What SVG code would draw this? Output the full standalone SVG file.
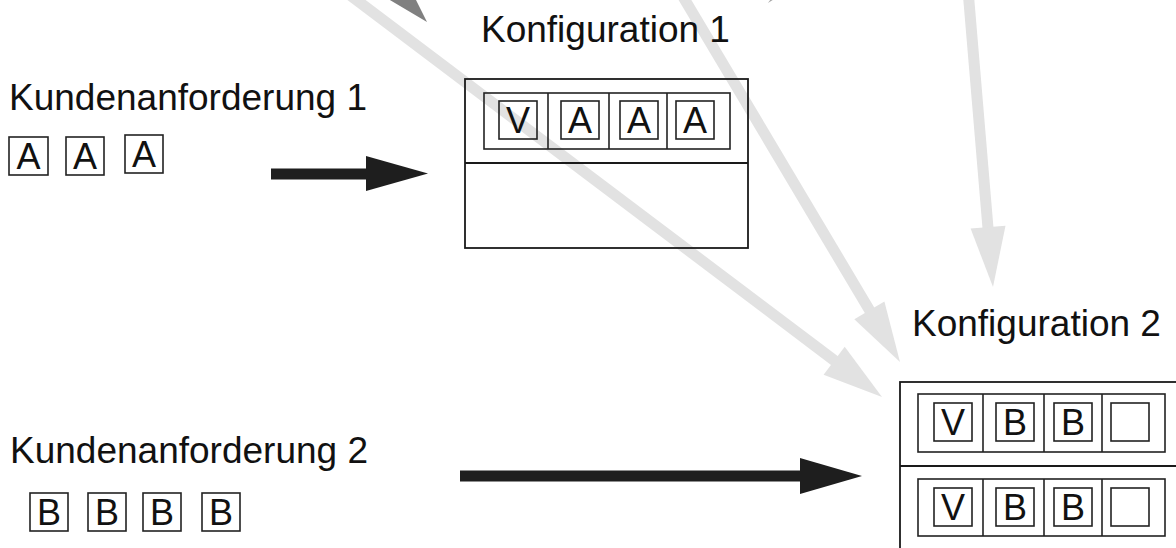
<svg xmlns="http://www.w3.org/2000/svg" width="1176" height="548" viewBox="0 0 1176 548">
<style>
.lbl{font-family:"Liberation Sans",Arial,sans-serif;font-size:37px;fill:#111}
.let{font-family:"Liberation Sans",Arial,sans-serif;font-size:36px;fill:#111;text-anchor:middle}
.bx{fill:none;stroke:#222;stroke-width:1.6}
.frame{fill:none;stroke:#1a1a1a;stroke-width:1.8}
.gl{stroke:#e2e2e2;stroke-width:11;fill:none}
.gh{fill:#e2e2e2}
.bl{stroke:#1e1e1e;stroke-width:11;fill:none}
.bh{fill:#1e1e1e}
</style>
<rect width="1176" height="548" fill="#fff"/>
<g id="connectors">
  <line class="gl" x1="330" y1="-20" x2="835" y2="361"/>
  <polygon class="gh" points="882,397 823.6,374.8 844.7,346.8"/>
  <line class="gl" x1="679" y1="-10" x2="870" y2="311"/>
  <polygon class="gh" points="900,362 854.3,319.3 884.4,301.5"/>
  <line class="gl" x1="968" y1="-10" x2="988" y2="228"/>
  <polygon class="gh" points="993,287 970.6,228.6 1005.5,225.7"/>
  <polygon fill="#808080" points="427,22 373,-10 399,-34"/>
  <polygon fill="#a8a8a8" points="768,3 773,-4 779,-4"/>
  <line class="bl" x1="271" y1="174" x2="368" y2="174"/>
  <polygon class="bh" points="366,156 428,173.5 366,191"/>
  <line class="bl" x1="460" y1="476" x2="802" y2="476"/>
  <polygon class="bh" points="800,458 862,476 800,494"/>
</g>
<g id="kunde1">
  <text class="lbl" x="9" y="110">Kundenanforderung 1</text>
  <rect class="bx" x="9" y="137" width="39" height="38"/><text class="let" x="28.5" y="169">A</text>
  <rect class="bx" x="66" y="137" width="38" height="38"/><text class="let" x="85" y="169">A</text>
  <rect class="bx" x="125" y="135" width="38" height="38"/><text class="let" x="144" y="167">A</text>
</g>
<g id="kunde2">
  <text class="lbl" x="10" y="463">Kundenanforderung 2</text>
  <rect class="bx" x="30" y="493" width="38" height="38"/><text class="let" x="49" y="525">B</text>
  <rect class="bx" x="88" y="493" width="38" height="38"/><text class="let" x="107" y="525">B</text>
  <rect class="bx" x="143" y="493" width="38" height="38"/><text class="let" x="162" y="525">B</text>
  <rect class="bx" x="202" y="493" width="38" height="38"/><text class="let" x="221" y="525">B</text>
</g>
<g id="konfig1">
  <text class="lbl" x="481" y="42">Konfiguration 1</text>
  <rect class="frame" x="465" y="79" width="283" height="169"/>
  <line class="frame" x1="465" y1="163" x2="748" y2="163"/>
  <rect class="bx" x="484" y="93" width="246" height="56"/>
  <line class="bx" x1="548" y1="93" x2="548" y2="149"/>
  <line class="bx" x1="609" y1="93" x2="609" y2="149"/>
  <line class="bx" x1="667" y1="93" x2="667" y2="149"/>
  <rect class="bx" x="499" y="101" width="38" height="38"/><text class="let" x="518" y="133">V</text>
  <rect class="bx" x="561" y="101" width="38" height="38"/><text class="let" x="580" y="133">A</text>
  <rect class="bx" x="620" y="101" width="38" height="38"/><text class="let" x="639" y="133">A</text>
  <rect class="bx" x="676" y="101" width="38" height="38"/><text class="let" x="695" y="133">A</text>
</g>
<g id="konfig2">
  <text class="lbl" x="912" y="336">Konfiguration 2</text>
  <rect class="frame" x="900" y="382" width="320" height="200"/>
  <line class="frame" x1="900" y1="466" x2="1176" y2="466"/>
  <rect class="bx" x="918" y="394" width="247" height="58"/>
  <line class="bx" x1="983" y1="394" x2="983" y2="452"/>
  <line class="bx" x1="1044" y1="394" x2="1044" y2="452"/>
  <line class="bx" x1="1102" y1="394" x2="1102" y2="452"/>
  <rect class="bx" x="934" y="403" width="38" height="38"/><text class="let" x="953" y="435">V</text>
  <rect class="bx" x="996" y="403" width="38" height="38"/><text class="let" x="1015" y="435">B</text>
  <rect class="bx" x="1054" y="403" width="38" height="38"/><text class="let" x="1073" y="435">B</text>
  <rect class="bx" x="1111" y="403" width="38" height="38"/>
  <rect class="bx" x="918" y="479" width="247" height="57"/>
  <line class="bx" x1="983" y1="479" x2="983" y2="536"/>
  <line class="bx" x1="1044" y1="479" x2="1044" y2="536"/>
  <line class="bx" x1="1102" y1="479" x2="1102" y2="536"/>
  <rect class="bx" x="934" y="488" width="38" height="38"/><text class="let" x="953" y="520">V</text>
  <rect class="bx" x="996" y="488" width="38" height="38"/><text class="let" x="1015" y="520">B</text>
  <rect class="bx" x="1054" y="488" width="38" height="38"/><text class="let" x="1073" y="520">B</text>
  <rect class="bx" x="1111" y="488" width="38" height="38"/>
</g>
</svg>
